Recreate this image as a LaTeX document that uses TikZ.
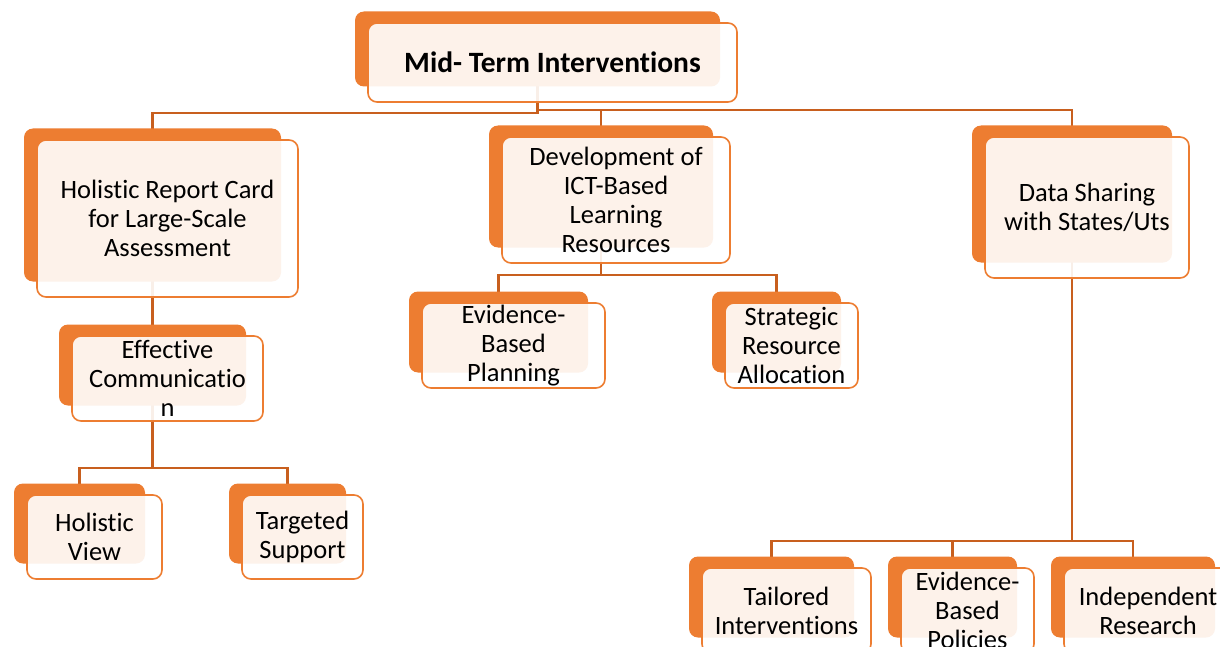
\documentclass[tikz,border=0pt]{standalone}
\usepackage{fontspec}
\setmainfont{Carlito}[Ligatures=NoCommon]
\usepackage{xcolor}
\usetikzlibrary{positioning,calc}

\definecolor{cardorange}{RGB}{237,125,49}
\definecolor{linkorange}{RGB}{200,95,30}

\pgfdeclarelayer{links}
\pgfdeclarelayer{shade}
\pgfsetlayers{links,shade,main}

\begin{document}
\begin{tikzpicture}[
    x=1pt, y=-1pt,
    card/.style={rectangle, rounded corners=9pt, draw=cardorange, line width=1.6pt,
        fill=white, fill opacity=0.9, text opacity=1, align=center, inner sep=2pt,
        font=\fontsize{26.5}{29}\selectfont},
    shade/.style={rectangle, rounded corners=9pt, fill=cardorange, inner sep=0pt},
    link/.style={draw=linkorange, line width=2.4pt}
]
    \useasboundingbox (0,0) rectangle (1220,647);
    \clip (0,0) rectangle (1220,647);

    % front cards
    \node[card, minimum width=369pt, minimum height=79pt, font=\fontsize{29.5}{32}\selectfont\bfseries] (mid) at (552.5,62.5) {Mid- Term Interventions};
    \node[card, minimum width=261pt, minimum height=157pt] (hrc) at (167.5,218.5) {Holistic Report Card\\for Large-Scale\\Assessment};
    \node[card, minimum width=191pt, minimum height=85pt] (eff) at (167.5,378.5) {Effective\\Communicatio\\n};
    \node[card, minimum width=135pt, minimum height=84pt] (hv) at (94.5,537) {Holistic\\View};
    \node[card, minimum width=121pt, minimum height=84pt] (ts) at (302.5,537) {Targeted\\Support};
    \node[card, minimum width=228pt, minimum height=126pt] (ict) at (616,200) {Development of\\ICT-Based\\Learning\\Resources};
    \node[card, minimum width=183pt, minimum height=85pt] (ebp) at (513.5,345.5) {Evidence-\\Based\\Planning};
    \node[card, minimum width=133pt, minimum height=85pt] (sra) at (791.5,345.5) {Strategic\\Resource\\Allocation};
    \node[card, minimum width=204pt, minimum height=141pt] (dss) at (1087,207.5) {Data Sharing\\with States/Uts};
    \node[card, minimum width=169pt, minimum height=85pt] (ti) at (786.5,610.5) {Tailored\\Interventions};
    \node[card, minimum width=133pt, minimum height=85pt] (ebpol) at (967.5,610.5) {Evidence-\\Based\\Policies};
    \node[card, minimum width=168pt, minimum height=85pt] (ir) at (1148,610.5) {Independent\\Research};

    % orange backs
    \begin{pgfonlayer}{shade}
    \foreach \n/\w/\h in {mid/369/79, hrc/261/157, eff/191/85, hv/135/84, ts/121/84,
        ict/228/126, ebp/183/85, sra/133/85, dss/204/141, ti/169/85, ebpol/133/85, ir/168/85}
        \node[shade, minimum width=\w pt-4pt, minimum height=\h pt-4pt] (\n-b) at ($(\n.center)+(-15,-13.5)$) {};
    \end{pgfonlayer}

    % connectors
    \begin{pgfonlayer}{links}
    \coordinate (busL) at (0,113);
    \coordinate (busR) at (0,110);
    \coordinate (busE) at (0,468);
    \coordinate (busI) at (0,275);
    \coordinate (busD) at (0,541);

    \draw[link] (mid-b.center) |- (hrc-b.center |- busL) -- (hrc-b.center);
    \draw[link] (mid-b.center |- busR) -| (dss-b.center);
    \draw[link] (ict-b.center |- busR) -- (ict-b.center);
    \draw[link] (hrc-b.center) -- (eff-b.center);

    \draw[link] (eff-b.center) -- (eff-b.center |- busE);
    \draw[link] (hv-b.center) |- (ts-b.center |- busE) -- (ts-b.center);

    \draw[link] (ict-b.center) -- (ict-b.center |- busI);
    \draw[link] (ebp-b.center) |- (sra-b.center |- busI) -- (sra-b.center);

    \draw[link] (dss-b.center) -- (dss-b.center |- busD);
    \draw[link] (ti-b.center) |- (ir-b.center |- busD) -- (ir-b.center);
    \draw[link] (ebpol-b.center |- busD) -- (ebpol-b.center);
    \end{pgfonlayer}
\end{tikzpicture}
\end{document}
